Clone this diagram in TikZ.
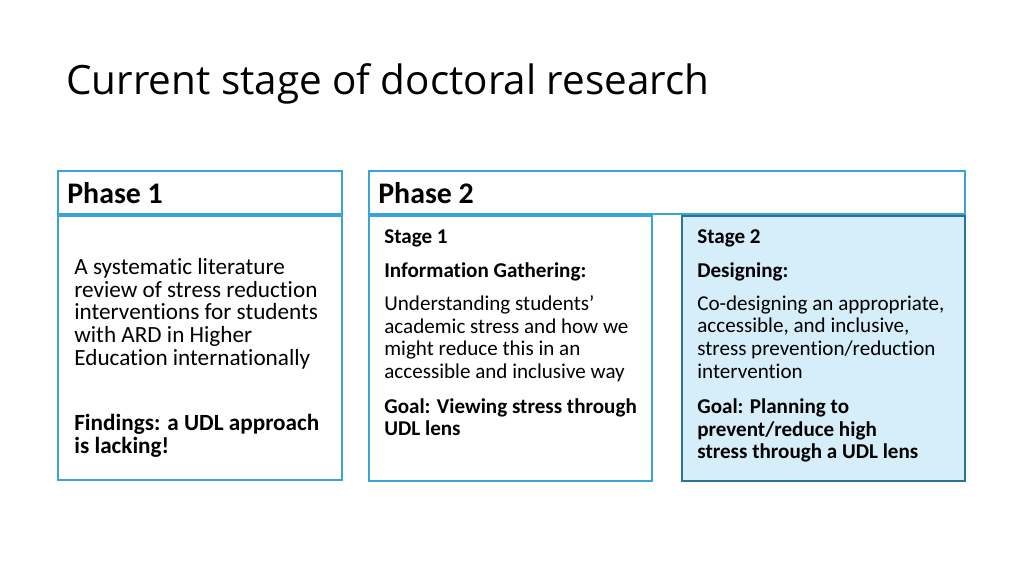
\documentclass[tikz,border=0pt]{standalone}
\usepackage{fontspec}
\setmainfont[RawFeature=-liga]{Carlito}
\newfontfamily\titlefont{Open Sans}
\usetikzlibrary{positioning}
\definecolor{edgeblue}{HTML}{3AA3D9}
\definecolor{paleblue}{HTML}{D5EEF9}
\tikzset{
    x=0.02cm, y=-0.02cm,
    panel/.style={draw=edgeblue, line width=0.6pt, fill=white},
    body/.style={anchor=north west, align=left, inner sep=0pt, font=\fontsize{12}{13}\selectfont},
    bodyb/.style={body, font=\fontsize{12}{13}\selectfont\bfseries},
    big/.style={body, font=\fontsize{13.2}{12.9}\selectfont},
    head/.style={anchor=west, inner sep=0pt, font=\fontsize{17}{20}\selectfont\bfseries},
}
\begin{document}
\begin{tikzpicture}
\useasboundingbox (0,0) rectangle (1024,576);

\node[anchor=west, inner sep=0pt, font=\titlefont\fontsize{23}{27}\selectfont] (title) at (66,84) {Current stage of doctoral research};

% panels
\draw[panel] (58,171) rectangle (342,214);
\draw[panel] (58,216) rectangle (342,480);
\draw[panel] (369,171) rectangle (965,214);
\draw[panel] (369,216) rectangle (652,481);
\draw[panel, fill=paleblue, draw=edgeblue!70!black] (682,216) rectangle (965,481);

\node[head] (p1) at (67,193) {Phase 1};
\node[head] (p2) at (378,193) {Phase 2};

% phase 1
\node[big] (review) at (74,258) {A systematic literature\\review of stress reduction\\interventions for students\\with ARD in Higher\\Education internationally};
\node[big, font=\fontsize{13.2}{12.9}\selectfont\bfseries] (find) at (74,414) {Findings: a UDL approach\\is lacking!};

% stage 1
\node[bodyb] (s1) at (384,229) {Stage 1};
\node[bodyb] (s1h) at (384,262) {Information Gathering:};
\node[body] (s1t) at (384,295) {Understanding students’\\academic stress and how we\\might reduce this in an\\accessible and inclusive way};
\node[bodyb] (s1g) at (384,398) {Goal: Viewing stress through\\UDL lens};

% stage 2
\node[bodyb] (s2) at (697,229) {Stage 2};
\node[bodyb] (s2h) at (697,262) {Designing:};
\node[body] (s2t) at (697,295) {Co-designing an appropriate,\\accessible, and inclusive,\\stress prevention/reduction\\intervention};
\node[bodyb] (s2g) at (697,398) {Goal: Planning to\\prevent/reduce high\\stress through a UDL lens};
\end{tikzpicture}
\end{document}
